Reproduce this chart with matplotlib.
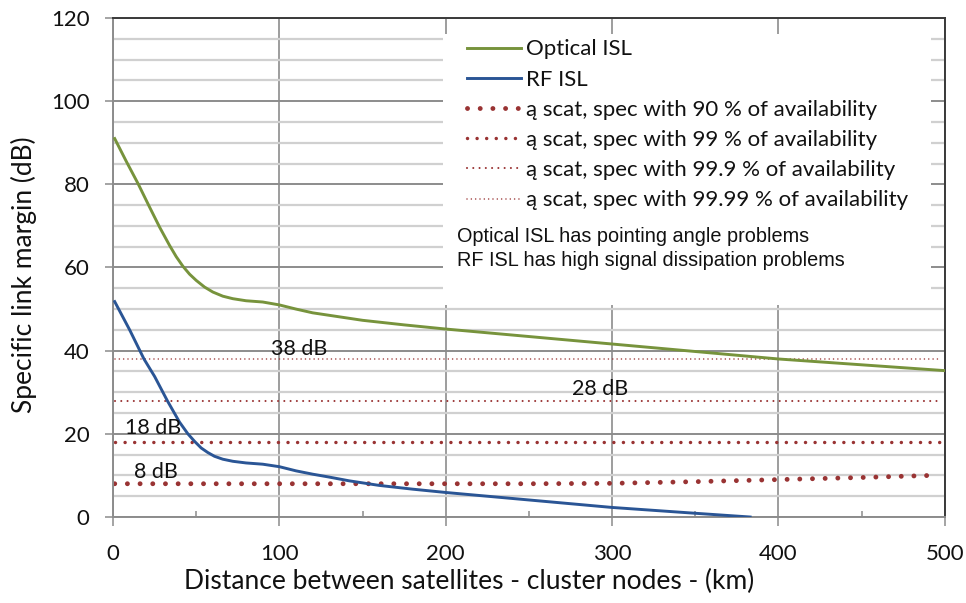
import matplotlib
matplotlib.use("Agg")
import matplotlib.pyplot as plt
from matplotlib.patches import Rectangle
from matplotlib.ticker import MultipleLocator

# --- data -------------------------------------------------------------
optical_x = [1, 8, 15, 22, 28, 34, 38, 42, 46, 50, 55, 60, 66, 72, 80, 90, 100,
             110, 120, 130, 140, 150, 175, 200, 250, 300, 350, 400, 450, 500]
optical_y = [91.0, 85.5, 80.2, 74.5, 69.7, 65.3, 62.6, 60.3, 58.4, 56.9, 55.3,
             54.1, 53.1, 52.5, 52.0, 51.7, 51.0, 50.0, 49.1, 48.5, 47.9, 47.3,
             46.2, 45.2, 43.4, 41.6, 39.8, 38.0, 36.6, 35.2]

rf_x = [1, 10, 18.6, 25, 32.6, 40, 45, 49, 53, 57, 61, 66, 72, 80, 90, 100,
        110, 120, 130, 142, 160, 180, 200, 250, 300, 350, 383]
rf_y = [51.8, 45.0, 38.0, 33.8, 28.0, 22.8, 20.0, 18.2, 16.6, 15.5, 14.6, 13.9,
        13.4, 13.0, 12.7, 12.1, 11.1, 10.3, 9.6, 8.7, 7.6, 6.7, 5.9, 4.1, 2.3,
        0.9, 0.0]

spec90_x = [1, 250, 300, 350, 400, 450, 492]
spec90_y = [8.0, 8.0, 8.1, 8.5, 9.0, 9.5, 10.0]

spec99_x = [1, 497]
spec99_y = [18, 18]
spec999_x = [1, 497]
spec999_y = [28, 28]
spec9999_x = [1, 497]
spec9999_y = [38, 38]

series_labels = [
    "Optical ISL",
    "RF ISL",
    "ą scat, spec with 90 % of availability",
    "ą scat, spec with 99 % of availability",
    "ą scat, spec with 99.9 % of availability",
    "ą scat, spec with 99.99 % of availability",
]
margin_labels = ["8 dB", "18 dB", "28 dB", "38 dB"]
note_lines = ["Optical ISL has pointing angle problems",
              "RF ISL has high signal dissipation problems"]

x_ticks = [0, 100, 200, 300, 400, 500]
y_ticks = [0, 20, 40, 60, 80, 100, 120]

# --- style --------------------------------------------------------------
GREEN = "#77933C"
BLUE = "#2A5595"
RED = "#993333"
MAJOR_GRID = "#8c8c8c"
MINOR_GRID = "#d0d0d0"
TEXT = "#111111"

plt.rcParams["font.family"] = ["Lato", "DejaVu Sans"]

fig = plt.figure(figsize=(9.66, 6.03), dpi=100)
ax = fig.add_axes([0.117, 0.1426, 0.861, 0.8276])

ax.set_xlim(0, 500)
ax.set_ylim(0, 120)
ax.set_xticks(x_ticks)
ax.set_yticks(y_ticks)
ax.xaxis.set_minor_locator(MultipleLocator(50))
ax.yaxis.set_minor_locator(MultipleLocator(5))

ax.set_axisbelow(True)
ax.grid(which="minor", axis="y", color=MINOR_GRID, lw=1.6)
ax.grid(which="major", axis="y", color=MAJOR_GRID, lw=1.4)
ax.grid(which="major", axis="x", color=MAJOR_GRID, lw=1.2)

for side in ("top", "right"):
    ax.spines[side].set_color("#3a3a3a")
    ax.spines[side].set_linewidth(1.4)
for side in ("left", "bottom"):
    ax.spines[side].set_color(MAJOR_GRID)
    ax.spines[side].set_linewidth(1.4)

ax.tick_params(axis="x", which="major", direction="out", length=6.5,
               width=1.1, color=MAJOR_GRID, pad=13, labelsize=16)
ax.tick_params(axis="x", which="minor", direction="in", length=4.3,
               width=1.1, color=MAJOR_GRID)
ax.tick_params(axis="y", which="major", direction="out", length=5.8,
               width=1.1, color=MAJOR_GRID, pad=11, labelsize=16)
ax.tick_params(axis="y", which="minor", length=0)

# white panel behind the legend and notes
ax.add_patch(Rectangle((0.397, 0.425), 0.587, 0.543, transform=ax.transAxes,
                       facecolor="white", edgecolor="none", zorder=1))

# --- series -------------------------------------------------------------
h_opt, = ax.plot(optical_x, optical_y, color=GREEN, lw=2.1, zorder=3,
                 solid_joinstyle="round")
h_rf, = ax.plot(rf_x, rf_y, color=BLUE, lw=2.1, zorder=3,
                solid_joinstyle="round")

dot_styles = [(3.5, 2.6), (2.5, 2.75), (1.5, 3.0), (1.15, 2.7)]
spec_series = [(spec90_x, spec90_y), (spec99_x, spec99_y),
               (spec999_x, spec999_y), (spec9999_x, spec9999_y)]
spec_handles = []
for (sx, sy), (lw, gap) in zip(spec_series, dot_styles):
    h, = ax.plot(sx, sy, color=RED, lw=lw, linestyle=(0, (0.01, gap)),
                 dash_capstyle="round", zorder=2)
    spec_handles.append(h)

# margin annotations
label_pos = [(25.5, 10.9), (24.3, 21.4), (292.6, 30.8), (112, 40.4)]
for text, (lx, ly) in zip(margin_labels, label_pos):
    ax.text(lx, ly, text, ha="center", va="center", fontsize=15.5,
            color=TEXT, zorder=4)

leg = ax.legend([h_opt, h_rf] + spec_handles, series_labels,
                loc="upper left", bbox_to_anchor=(0.4147, 0.975),
                frameon=False, fontsize=16, handlelength=2.45,
                handletextpad=0.22, labelspacing=0.46, borderaxespad=0)
for t in leg.get_texts():
    t.set_color(TEXT)

ax.text(0.414, 0.563, note_lines[0], transform=ax.transAxes, ha="left",
        va="center", fontsize=14.3, family="Liberation Sans", color=TEXT)
ax.text(0.414, 0.514, note_lines[1], transform=ax.transAxes, ha="left",
        va="center", fontsize=14.3, family="Liberation Sans", color=TEXT)

ax.set_xlabel("Distance between satellites - cluster nodes - (km)",
              fontsize=19, color=TEXT)
ax.xaxis.set_label_coords(0.428, -0.104)
ax.set_ylabel("Specific link margin (dB)", fontsize=19, color=TEXT)
ax.yaxis.set_label_coords(-0.092, 0.485)

for lbl in ax.get_xticklabels() + ax.get_yticklabels():
    lbl.set_color(TEXT)

fig.savefig("out.png", dpi=100)
